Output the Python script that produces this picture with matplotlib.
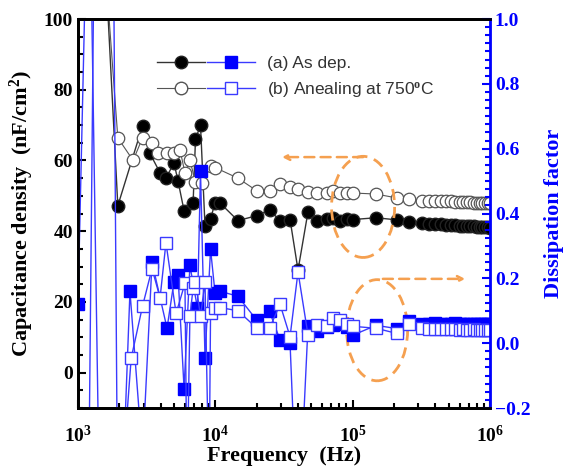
import numpy as np
import matplotlib.pyplot as plt
from matplotlib.patches import Ellipse
from matplotlib.legend_handler import HandlerTuple
from matplotlib.lines import Line2D

plt.rcParams['font.family'] = 'Liberation Serif'
plt.rcParams['mathtext.fontset'] = 'custom'
plt.rcParams['mathtext.rm'] = 'Liberation Serif:bold'
plt.rcParams['mathtext.bf'] = 'Liberation Serif:bold'
plt.rcParams['mathtext.it'] = 'Liberation Serif:bold'

# ---- data ----
# high-frequency part, shared by all series
f_hi = [14600, 20100, 24800, 29600, 35000, 40000, 47300, 55100, 65200, 72000,
        81000, 91000, 100700, 148000, 210000, 257000, 320000, 360000, 400000,
        440000, 480000, 520000, 560000, 600000, 640000, 680000, 720000, 760000,
        800000, 840000, 880000, 920000, 960000, 1000000]

# capacitance density (nF/cm2), (a) as deposited
cap_a_f = [1600, 1950, 2950, 3340, 3960, 4370, 5000, 5350, 5920, 6890, 7170,
           7800, 8410, 9230, 9950, 10800]
cap_a_lo = [112, 47.2, 69.8, 62, 56.5, 55, 59.3, 54.2, 45.8, 48, 66, 70,
            41.5, 43.5, 48, 48]
cap_a_hi = [43, 44.4, 46, 43, 43.3, 29, 45.5, 43, 43.5, 43.8, 43, 43.5, 43.3,
            43.8, 43.2, 42.6, 42.2, 42.0, 41.9, 41.9, 41.8, 41.7, 41.7, 41.6,
            41.5, 41.5, 41.4, 41.4, 41.3, 41.3, 41.2, 41.2, 41.1, 41.0]

# capacitance density, (b) annealed at 750C
cap_b_f = [1600, 1950, 2520, 2950, 3460, 3830, 4450, 5000, 5530, 6010, 6530,
           7170, 8000, 9230, 9950]
cap_b_lo = [112, 66.4, 60, 66.4, 65, 62, 62, 62, 63, 56.5, 60, 54, 53.6,
            58.5, 58]
cap_b_hi = [55, 51.4, 51.4, 53.4, 52.5, 52, 51.2, 50.8, 50.8, 51.3, 50.8,
            50.9, 50.8, 50.5, 49.4, 49.2, 48.6, 48.6, 48.5, 48.5, 48.4, 48.4,
            48.3, 48.3, 48.2, 48.2, 48.2, 48.1, 48.1, 48.1, 48.0, 48.0, 48.0,
            48.0]

# dissipation factor, (a)
df_a_f = [1000, 1200, 1600, 2390, 2950, 3460, 4450, 5000, 5350, 5920, 6530,
          7410, 7800, 8410, 9230, 9950, 10800]
df_a_lo = [0.12, 1.6, -1.8, 0.16, -0.35, 0.25, 0.046, 0.19, 0.21, -0.14,
           0.24, 0.108, 0.53, -0.046, 0.29, 0.155, 0.16]
df_a_hi = [0.145, 0.07, 0.098, 0.01, 0.0, -0.6, 0.052, 0.037, 0.05, 0.055,
           0.06, 0.05, 0.025, 0.055, 0.045, 0.068, 0.06, 0.06, 0.062, 0.06,
           0.058, 0.06, 0.061, 0.059, 0.06, 0.058, 0.06, 0.059, 0.058, 0.06,
           0.059, 0.058, 0.058, 0.058]

# dissipation factor, (b)
df_b_f = [1150, 1350, 1800, 1950, 2440, 2950, 3460, 3960, 4370, 5180, 6010,
          6220, 6530, 6890, 7170, 7800, 8410, 9000, 9230, 9950, 10800]
df_b_lo = [-1.2, 1.8, 1.4, -0.6, -0.046, 0.114, 0.23, 0.14, 0.31, 0.092,
           0.185, -0.45, 0.083, 0.17, 0.19, 0.083, 0.19, -0.45, 0.092, 0.11,
           0.11]
df_b_hi = [0.10, 0.046, 0.046, 0.12, 0.02, 0.22, 0.025, 0.055, 0.052, 0.077,
           0.07, 0.06, 0.052, 0.046, 0.03, 0.06, 0.046, 0.045, 0.044, 0.044,
           0.043, 0.044, 0.043, 0.042, 0.043, 0.042, 0.042, 0.043, 0.042,
           0.042, 0.041, 0.042, 0.041, 0.041]

labels = ['(a) As dep.', '(b) Anealing at 750$^{\\mathrm{o}}$C']
xtick_vals = [1e3, 1e4, 1e5, 1e6]
xtick_labels = ['$\\mathbf{10^{3}}$', '$\\mathbf{10^{4}}$',
                '$\\mathbf{10^{5}}$', '$\\mathbf{10^{6}}$']

blue = '#0000FF'
lblue = '#3a3aff'
orange = '#F5A050'

fig = plt.figure(figsize=(5.79, 4.67), dpi=100)
ax = fig.add_axes([0.1347, 0.1263, 0.8463 - 0.1347, 0.9593 - 0.1263])
ax2 = ax.twinx()

# capacitance (left axis)
ax.plot(cap_a_f + f_hi, cap_a_lo + cap_a_hi, '-o', color='#333333',
        lw=1, ms=9, mfc='black', mec='#222222', mew=1)
ax.plot(cap_b_f + f_hi, cap_b_lo + cap_b_hi, '-o', color='#555555',
        lw=0.8, ms=9, mfc='white', mec='#555555', mew=0.9)

# dissipation factor (right axis)
ax2.plot(df_a_f + f_hi, df_a_lo + df_a_hi, '-s', color=lblue,
         lw=1, ms=8, mfc=blue, mec=blue, mew=1)
ax2.plot(df_b_f + f_hi, df_b_lo + df_b_hi, '-s', color=lblue,
         lw=1, ms=8, mfc='white', mec=lblue, mew=1)

ax.set_xscale('log')
ax.set_xlim(1e3, 1e6)
ax.set_ylim(-10, 100)
ax2.set_ylim(-0.2, 1.0)

ax.set_xticks(xtick_vals)
ax.set_xticklabels(xtick_labels)
ax.set_yticks([0, 20, 40, 60, 80, 100])
ax.set_yticks(np.arange(-10, 101, 5), minor=True)
ax2.set_yticks([-0.2, 0.0, 0.2, 0.4, 0.6, 0.8, 1.0])
ax2.set_yticks(np.arange(-0.2, 1.001, 0.025), minor=True)

ax.tick_params(axis='both', which='both', direction='in', top=False,
               labelsize=14, width=1.5)
ax.tick_params(which='major', length=6)
ax.tick_params(which='minor', length=3.5)
ax.tick_params(axis='x', pad=12)
ax2.tick_params(axis='y', which='both', direction='in', colors=blue,
                labelsize=14, width=1.5)
ax2.tick_params(axis='y', which='major', length=6)
ax2.tick_params(axis='y', which='minor', length=3.5)
for lab in ax.get_yticklabels() + ax2.get_yticklabels():
    lab.set_fontweight('bold')

for s in ['left', 'top', 'bottom']:
    ax.spines[s].set_linewidth(2)
    ax2.spines[s].set_linewidth(2)
ax2.spines['right'].set_color(blue)
ax2.spines['right'].set_linewidth(2)

ax.set_xlabel('Frequency  (Hz)', fontsize=16, fontweight='bold', labelpad=0)
ax.set_ylabel('Capacitance density  (nF/cm$^{\\mathbf{2}}$)', fontsize=16,
              fontweight='bold', labelpad=6)
ax2.set_ylabel('Dissipation factor', fontsize=16, fontweight='bold',
               color=blue, labelpad=10)

# orange guides
ax.add_patch(Ellipse((0.692, 0.517), 0.153, 0.26, transform=ax.transAxes,
                     fill=False, ec=orange, lw=2, ls=(0, (4, 2.5)), zorder=5))
ax.add_patch(Ellipse((0.726, 0.20), 0.148, 0.26, transform=ax.transAxes,
                     fill=False, ec=orange, lw=2, ls=(0, (4, 2.5)), zorder=5))
ax.annotate('', xy=(0.495, 0.645), xytext=(0.692, 0.645),
            xycoords='axes fraction',
            arrowprops=dict(arrowstyle='->', color=orange, lw=1.8,
                            ls=(0, (4, 2.5)), shrinkA=0, shrinkB=0))
ax.annotate('', xy=(0.94, 0.332), xytext=(0.74, 0.332),
            xycoords='axes fraction',
            arrowprops=dict(arrowstyle='->', color=orange, lw=1.8,
                            ls=(0, (4, 2.5)), shrinkA=0, shrinkB=0))

# legend
h_a = (Line2D([], [], color='#333333', lw=1, marker='o', ms=9, mfc='black', mec='#222222'),
       Line2D([], [], color=lblue, lw=1, marker='s', ms=8, mfc=blue, mec=blue))
h_b = (Line2D([], [], color='#555555', lw=0.8, marker='o', ms=9, mfc='white', mec='#555555'),
       Line2D([], [], color=lblue, lw=1, marker='s', ms=8, mfc='white', mec=lblue))
leg = ax2.legend([h_a, h_b], labels, loc='upper left',
                 bbox_to_anchor=(0.155, 0.945), frameon=False,
                 handler_map={tuple: HandlerTuple(ndivide=None, pad=0.1)},
                 handlelength=5.6, handletextpad=0.7, labelspacing=0.5,
                 prop={'family': 'Liberation Sans', 'size': 12.5})
for t in leg.get_texts():
    t.set_color('#333333')

fig.savefig('out.png', dpi=100)
